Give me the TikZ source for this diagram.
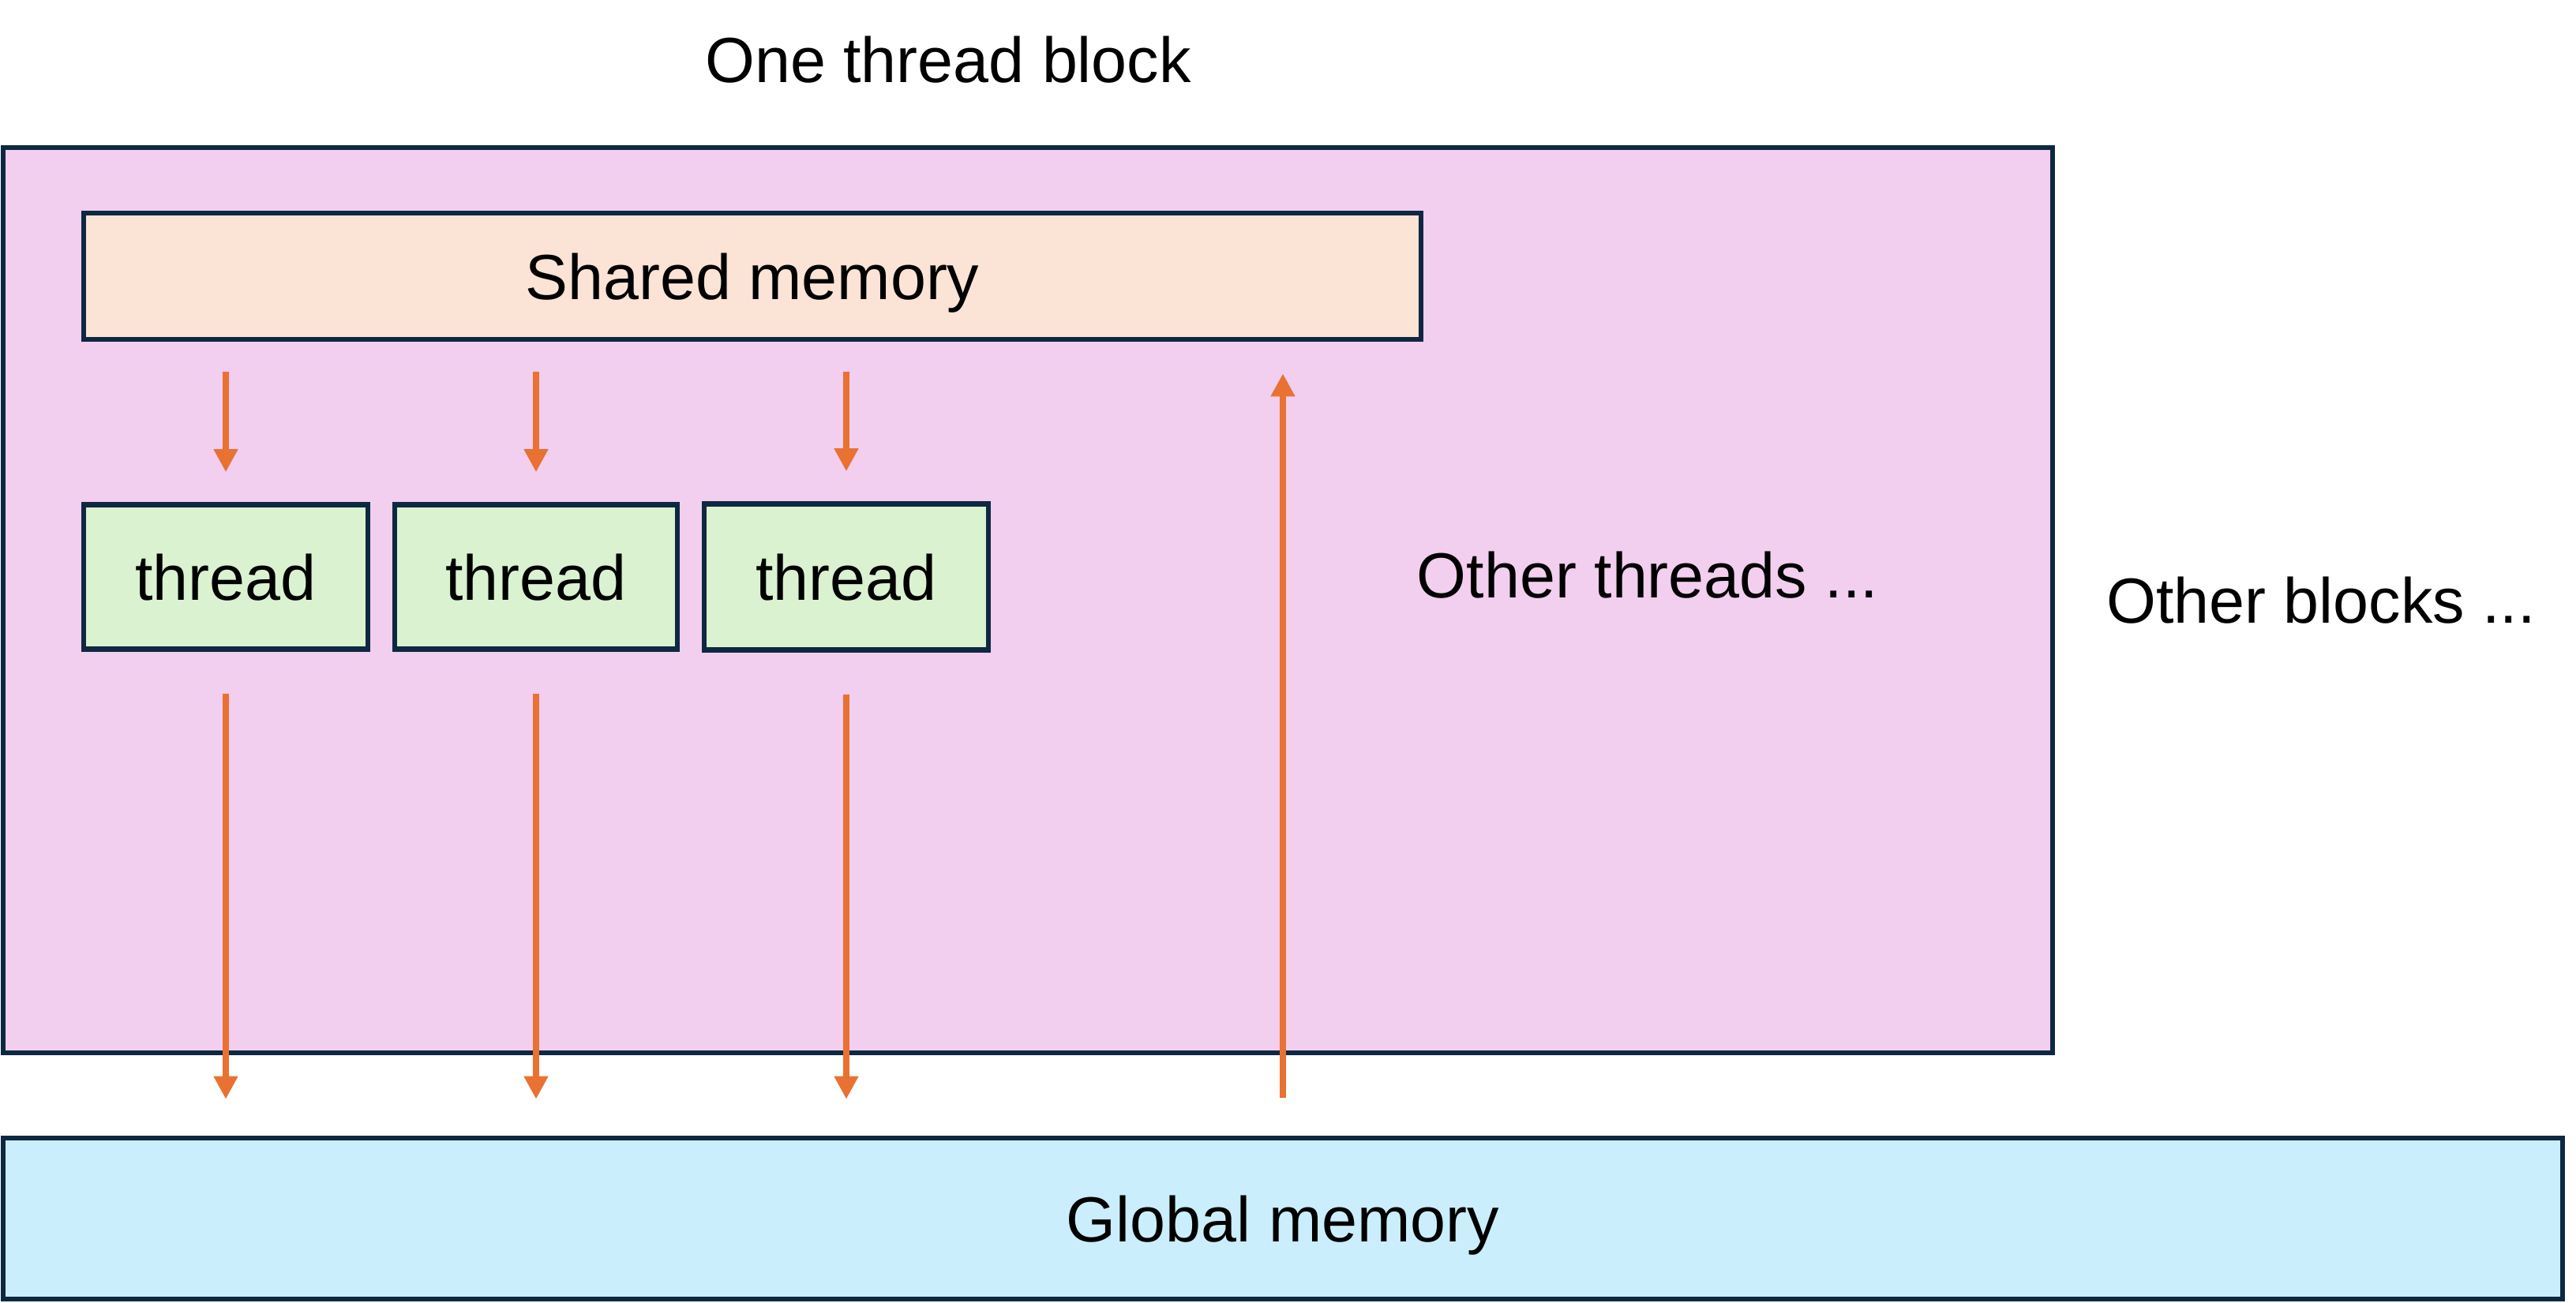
\documentclass[tikz,border=0pt]{standalone}
\usepackage{fontspec}
\setmainfont{Liberation Sans}
\usepackage{tikz}
\usetikzlibrary{arrows.meta,positioning,calc}

\definecolor{blockpink}{HTML}{F2CEEF}
\definecolor{sharedfill}{HTML}{FBE3D6}
\definecolor{threadfill}{HTML}{DAF2D0}
\definecolor{globalfill}{HTML}{CAEEFB}
\definecolor{edgedark}{HTML}{0E2841}
\definecolor{flowred}{HTML}{E97132}

\begin{document}
\begin{tikzpicture}[
				> = {Triangle[length=2.9mm, width=2.9mm]}, % arrow head style
				font = \fontsize{23}{28}\selectfont,
				node distance = 3.93cm, % distance between threads
				line width = 1.9pt % box line style
			]
			
			\tikzstyle{membox}=[
			draw = edgedark,
			inner sep = 0pt,
			text height = 21pt,
			text depth = 4.5pt
			]
			\tikzstyle{flow}=[->, draw = flowred, line width = 2.35pt]
			
			\useasboundingbox (0,0) rectangle (32.63,-16.50);
			
			\node[membox, fill = blockpink, minimum width = 25.96cm, minimum height = 11.47cm] (block) at (13.02,-7.605) {};
			\node[membox, fill = globalfill, minimum width = 32.42cm, minimum height = 2.04cm] (global) at (16.25,-15.44) {Global memory};
			\node[membox, fill = sharedfill, minimum width = 16.94cm, minimum height = 1.60cm] (shared) at (9.53,-3.50) {Shared memory};
			
			\node[membox, fill = threadfill, minimum width = 3.60cm, minimum height = 1.83cm] (t1) at (2.86,-7.31) {thread};
			\node[membox, fill = threadfill, minimum width = 3.58cm, minimum height = 1.83cm, right of = t1] (t2) {thread};
			\node[membox, fill = threadfill, minimum width = 3.60cm, minimum height = 1.85cm, right of = t2] (t3) {thread};
			
			\node[anchor = base] (title) at (12.01,-1.04) {One thread block};
			\node[anchor = base] (others) at (20.87,-7.57) {Other threads ...};
			\node[anchor = base] (moreblocks) at (29.40,-7.89) {Other blocks ...};
			
			\draw[flow, shorten <= 0.38cm, shorten >= 0.38cm] (t1.north |- shared.south) -- (t1.north);
			\draw[flow, shorten <= 0.38cm, shorten >= 0.38cm] (t2.north |- shared.south) -- (t2.north);
			\draw[flow, shorten <= 0.38cm, shorten >= 0.38cm] (t3.north |- shared.south) -- (t3.north);
			
			\draw[flow, shorten <= 0.53cm, shorten >= 0.46cm] (t1.south) -- (t1.south |- global.north);
			\draw[flow, shorten <= 0.53cm, shorten >= 0.46cm] (t2.south) -- (t2.south |- global.north);
			\draw[flow, shorten <= 0.53cm, shorten >= 0.46cm] (t3.south) -- (t3.south |- global.north);
			
			\draw[flow, shorten <= 0.48cm, shorten >= 0.40cm] (global.north) -- (global.north |- shared.south);
		\end{tikzpicture}
\end{document}
